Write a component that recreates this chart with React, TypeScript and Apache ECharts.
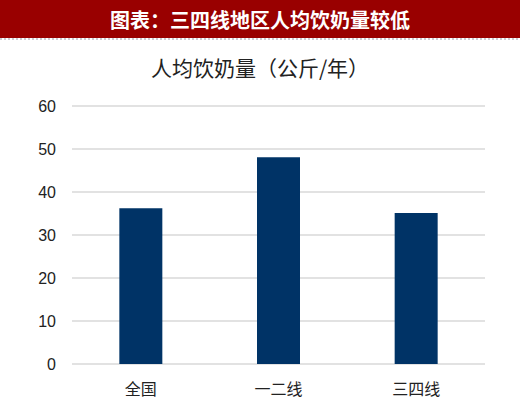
import React, { useEffect, useRef } from "react";
import * as echarts from "echarts";

const categories = ["全国", "一二线", "三四线"];
const values = [36.2, 48.1, 35.1];
const yTicks = [0, 10, 20, 30, 40, 50, 60];
const headerTitle = "图表：三四线地区人均饮奶量较低";
const chartTitle = "人均饮奶量（公斤/年）";

export default function App() {
  const ref = useRef<HTMLDivElement>(null);
  useEffect(() => {
    document.body.style.margin = "0";
    const chart = echarts.init(ref.current!, null, { renderer: "svg" });
    chart.setOption({
      animation: false,
      backgroundColor: "#ffffff",
      graphic: [
        { type: "rect", shape: { x: 0, y: 0, width: 520, height: 38 }, style: { fill: "#990000" } },
        { type: "line", shape: { x1: 0, y1: 39, x2: 520, y2: 39 }, style: { stroke: "#9a9aa8", lineWidth: 1, lineDash: [2, 2] } },
        {
          type: "text",
          x: 260,
          y: 19,
          style: {
            text: headerTitle,
            fill: "#ffffff",
            font: "bold 20px 'Noto Sans CJK SC'",
            align: "center",
            verticalAlign: "middle",
          },
        },
        {
          type: "text",
          x: 260,
          y: 67,
          style: {
            text: chartTitle,
            fill: "#222222",
            font: "21px 'Noto Sans CJK SC'",
            align: "center",
            verticalAlign: "middle",
          },
        },
      ],
      grid: { left: 72, right: 35, top: 106, bottom: 46, containLabel: false },
      xAxis: {
        type: "category",
        data: categories,
        axisLine: { show: false },
        axisTick: { show: false },
        axisLabel: { margin: 16, color: "#222222", fontSize: 16, fontFamily: "Noto Sans CJK SC" },
      },
      yAxis: {
        type: "value",
        min: yTicks[0],
        max: yTicks[yTicks.length - 1],
        interval: 10,
        axisLine: { show: false },
        axisTick: { show: false },
        splitLine: { lineStyle: { color: "#d9d9d9", width: 1.5 } },
        axisLabel: { margin: 16, color: "#222222", fontSize: 16, fontFamily: "Liberation Sans" },
      },
      series: [
        {
          type: "bar",
          data: values,
          barWidth: 43,
          itemStyle: { color: "#003366" },
        },
      ],
    });
    return () => chart.dispose();
  }, []);
  return <div ref={ref} style={{ width: 520, height: 410 }} />;
}
